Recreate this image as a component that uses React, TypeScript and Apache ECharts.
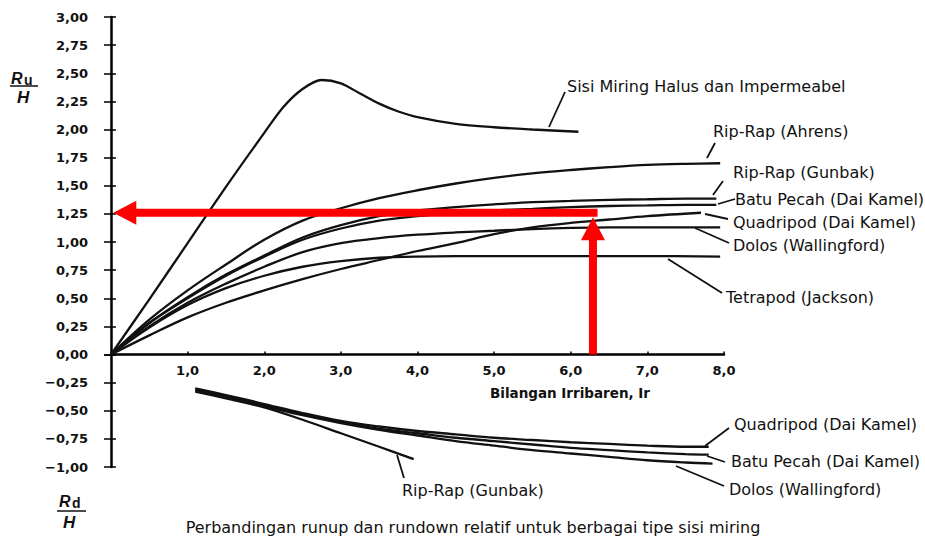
import React, { useEffect, useRef } from "react";
import * as echarts from "echarts";

const FONT = '"DejaVu Sans", sans-serif';
const RED = "#ff0000";
const INK = "#111111";

// ---- Runup curves (Ru/H vs Ir) ----
const sisiMiring: [number, number][] = [[0,0],[0.5,0.49],[1,0.99],[1.5,1.49],[2,1.97],[2.25,2.2],[2.5,2.36],[2.75,2.44],[3,2.41],[3.25,2.32],[3.5,2.23],[3.75,2.16],[4,2.11],[4.5,2.05],[5,2.02],[5.5,2.0],[6.1,1.98]];
const ripRapAhrens: [number, number][] = [[0,0],[0.5,0.31],[1,0.57],[1.5,0.8],[2,1.02],[2.5,1.19],[3,1.3],[3.5,1.39],[4,1.46],[4.5,1.52],[5,1.57],[5.5,1.61],[6,1.64],[6.5,1.665],[7,1.685],[7.5,1.695],[7.95,1.7]];
const ripRapGunbak: [number, number][] = [[0,0],[0.5,0.28],[1,0.51],[1.5,0.71],[2,0.88],[2.5,1.04],[3,1.15],[3.5,1.23],[4,1.28],[4.5,1.31],[5,1.335],[5.5,1.355],[6,1.365],[6.5,1.375],[7,1.38],[7.5,1.385],[7.9,1.385]];
const batuPecah: [number, number][] = [[0,0],[0.5,0.28],[1,0.5],[1.5,0.7],[2,0.87],[2.5,1.02],[3,1.12],[3.5,1.19],[4,1.23],[4.5,1.26],[5,1.28],[5.5,1.295],[6,1.31],[6.5,1.32],[7,1.325],[7.5,1.33],[7.9,1.33]];
const quadripod: [number, number][] = [[0,0],[0.5,0.17],[1,0.33],[1.5,0.46],[2,0.57],[2.5,0.67],[3,0.76],[3.5,0.84],[4,0.92],[4.5,0.99],[5,1.07],[5.5,1.13],[6,1.17],[6.5,1.2],[7,1.23],[7.7,1.26]];
const dolos: [number, number][] = [[0,0],[0.5,0.25],[1,0.46],[1.5,0.63],[2,0.78],[2.5,0.91],[3,0.99],[3.5,1.035],[4,1.065],[4.5,1.085],[5,1.1],[5.5,1.115],[6,1.125],[6.5,1.13],[7,1.13],[7.5,1.13],[7.95,1.13]];
const tetrapod: [number, number][] = [[0,0],[0.5,0.24],[1,0.44],[1.5,0.59],[2,0.7],[2.5,0.78],[3,0.83],[3.5,0.86],[4,0.87],[5,0.875],[6,0.875],[7,0.875],[7.95,0.87]];

// ---- Rundown curves (Rd/H vs Ir) ----
const quadripodRd: [number, number][] = [[1.1,-0.3],[1.5,-0.36],[2,-0.44],[2.5,-0.52],[3,-0.59],[3.5,-0.64],[4,-0.68],[4.5,-0.71],[5,-0.74],[5.5,-0.76],[6,-0.78],[6.5,-0.795],[7,-0.81],[7.5,-0.82],[7.8,-0.82]];
const batuPecahRd: [number, number][] = [[1.1,-0.31],[1.5,-0.37],[2,-0.45],[2.5,-0.53],[3,-0.6],[3.5,-0.66],[4,-0.7],[4.5,-0.74],[5,-0.77],[5.5,-0.8],[6,-0.83],[6.5,-0.85],[7,-0.87],[7.5,-0.885],[7.8,-0.89]];
const dolosRd: [number, number][] = [[1.1,-0.32],[1.5,-0.38],[2,-0.46],[2.5,-0.54],[3,-0.61],[3.5,-0.67],[4,-0.72],[4.5,-0.77],[5,-0.81],[5.5,-0.85],[6,-0.88],[6.5,-0.91],[7,-0.94],[7.5,-0.96],[7.85,-0.97]];
const ripRapGunbakRd: [number, number][] = [[1.1,-0.33],[1.5,-0.39],[2,-0.47],[2.5,-0.58],[3,-0.7],[3.5,-0.82],[3.95,-0.93]];

// ---- Red reading arrows: [fromX, fromY, toX, toY] ----
const arrows: number[][] = [[6.35, 1.26, 0.03, 1.26], [6.29, 0, 6.29, 1.22]];

// ---- Axis ranges / ticks ----
const X_MIN = 0, X_MAX = 8, X_STEP = 1;
const YU_MIN = 0, YU_MAX = 3;
const YD_MIN = -1, YD_MAX = 0;
const Y_STEP = 0.25;

// ---- Annotations: text, x, y (pixels), leader line points ----
const labels: { text: string; x: number; y: number; leader: number[][] }[] = [
  { text: "Sisi Miring Halus dan Impermeabel", x: 567, y: 86, leader: [[565, 92], [549, 127]] },
  { text: "Rip-Rap (Ahrens)", x: 713, y: 131, leader: [[715, 143], [707, 158]] },
  { text: "Rip-Rap (Gunbak)", x: 733, y: 172, leader: [[723, 181], [713, 195]] },
  { text: "Batu Pecah (Dai Kamel)", x: 735, y: 199, leader: [[735, 199], [718, 204]] },
  { text: "Quadripod (Dai Kamel)", x: 733, y: 222, leader: [[728, 219], [705, 214]] },
  { text: "Dolos (Wallingford)", x: 733, y: 245, leader: [[729, 243], [695, 228]] },
  { text: "Tetrapod (Jackson)", x: 726, y: 297, leader: [[722, 293], [668, 259]] },
  { text: "Quadripod (Dai Kamel)", x: 734, y: 424, leader: [[729, 428], [705, 446]] },
  { text: "Batu Pecah (Dai Kamel)", x: 731, y: 461, leader: [[725, 462], [707, 456]] },
  { text: "Dolos (Wallingford)", x: 729, y: 489, leader: [[724, 486], [676, 466]] },
  { text: "Rip-Rap (Gunbak)", x: 402, y: 490, leader: [[404, 478], [397, 455]] },
];

const fmtComma = (v: number, d: number) => {
  const s = Math.abs(v).toFixed(d).replace(".", ",");
  return v < 0 ? "\u2212" + s : s;
};

const lineSeries = (data: [number, number][], grid: number, smooth = 0.35) => ({
  type: "line",
  data,
  xAxisIndex: grid,
  yAxisIndex: grid * 2,
  smooth,
  symbol: "none",
  showSymbol: false,
  silent: true,
  z: 3,
  lineStyle: { color: INK, width: 2.3 },
});

const tickLabel = {
  color: INK,
  fontFamily: FONT,
  fontSize: 13,
  fontWeight: "bold",
};

const yAxesFor = (gridIndex: number, min: number, max: number, hideZero: boolean) => [
  {
    type: "value",
    gridIndex,
    min,
    max,
    interval: Y_STEP,
    axisLine: { show: true, onZero: false, lineStyle: { color: "#000", width: 2.5 } },
    axisTick: { show: true, length: 7, lineStyle: { color: "#000", width: 1.5 } },
    axisLabel: {
      ...tickLabel,
      margin: 23,
      formatter: (v: number) => (hideZero && v === 0 ? "" : fmtComma(v, 2)),
    },
    splitLine: { show: false },
  },
  {
    type: "value",
    gridIndex,
    min,
    max,
    interval: Y_STEP,
    position: "left",
    axisLine: { show: false, onZero: false },
    axisTick: { show: true, inside: true, length: 5, lineStyle: { color: "#000", width: 1.5 } },
    axisLabel: { show: false },
    splitLine: { show: false },
  },
];

export default function App() {
  const ref = useRef<HTMLDivElement>(null);
  useEffect(() => {
    if (!ref.current) return;
    const chart = echarts.init(ref.current, null, { renderer: "svg" });

    const graphics: any[] = [];
    labels.forEach((l) => {
      graphics.push({
        type: "text",
        z: 10,
        style: { x: l.x, y: l.y, text: l.text, fill: INK, font: `16px ${FONT}`, textAlign: "left", textVerticalAlign: "middle" },
      });
      graphics.push({
        type: "polyline",
        z: 10,
        shape: { points: l.leader },
        style: { stroke: INK, lineWidth: 1.8, fill: null },
      });
    });
    // Axis titles Ru/H and Rd/H
    const frac = (sub: string, x: number, yTop: number, lineX1: number, lineX2: number, yLine: number, hx: number, yH: number) => {
      graphics.push({ type: "text", z: 10, style: { x, y: yTop, text: "R", fill: INK, font: `italic bold 16px "Liberation Sans", sans-serif`, textAlign: "left", textVerticalAlign: "middle" } });
      graphics.push({ type: "text", z: 10, style: { x: x + 13, y: yTop + 2, text: sub, fill: INK, font: `bold 14px "Liberation Sans", sans-serif`, textAlign: "left", textVerticalAlign: "middle" } });
      graphics.push({ type: "line", z: 10, shape: { x1: lineX1, y1: yLine, x2: lineX2, y2: yLine }, style: { stroke: INK, lineWidth: 1.5 } });
      graphics.push({ type: "text", z: 10, style: { x: hx, y: yH, text: "H", fill: INK, font: `italic bold 17px "Liberation Sans", sans-serif`, textAlign: "left", textVerticalAlign: "middle" } });
    };
    frac("u", 11, 78, 10, 38, 86, 17, 97);
    frac("d", 59, 501, 57, 86, 511, 63, 522);
    graphics.push({
      type: "text",
      z: 10,
      style: { x: 570, y: 393, text: "Bilangan Irribaren, Ir", fill: INK, font: `bold 13.5px ${FONT}`, textAlign: "center", textVerticalAlign: "middle" },
    });
    graphics.push({
      type: "text",
      z: 10,
      style: { x: 473, y: 527, text: "Perbandingan runup dan rundown relatif untuk berbagai tipe sisi miring", fill: INK, font: `16px ${FONT}`, textAlign: "center", textVerticalAlign: "middle" },
    });

    chart.setOption({
      animation: false,
      backgroundColor: "#ffffff",
      grid: [
        { left: 111, top: 17, width: 613, height: 337.5, containLabel: false },
        { left: 111, top: 354.5, width: 613, height: 112.5, containLabel: false },
      ],
      xAxis: [
        {
          type: "value",
          gridIndex: 0,
          min: X_MIN,
          max: X_MAX,
          interval: X_STEP,
          axisLine: { show: true, onZero: false, lineStyle: { color: "#000", width: 2.5 } },
          axisTick: { show: true, inside: true, length: 3, lineStyle: { color: "#000", width: 1.5 } },
          axisLabel: {
            ...tickLabel,
            margin: 9,
            formatter: (v: number) => (v === 0 ? "" : fmtComma(v, 1)),
          },
          splitLine: { show: false },
        },
        {
          type: "value",
          gridIndex: 1,
          min: X_MIN,
          max: X_MAX,
          interval: X_STEP,
          show: false,
        },
      ],
      yAxis: [...yAxesFor(0, YU_MIN, YU_MAX, false), ...yAxesFor(1, YD_MIN, YD_MAX, true)],
      series: [
        lineSeries(sisiMiring, 0, 0.3),
        lineSeries(ripRapAhrens, 0),
        lineSeries(ripRapGunbak, 0),
        lineSeries(batuPecah, 0),
        lineSeries(quadripod, 0),
        lineSeries(dolos, 0),
        lineSeries(tetrapod, 0),
        lineSeries(quadripodRd, 1),
        lineSeries(batuPecahRd, 1),
        lineSeries(dolosRd, 1),
        lineSeries(ripRapGunbakRd, 1),
        {
          type: "custom",
          coordinateSystem: "cartesian2d",
          xAxisIndex: 0,
          yAxisIndex: 0,
          data: arrows,
          encode: { x: [0, 2], y: [1, 3] },
          silent: true,
          clip: false,
          z: 6,
          renderItem: (_p: any, api: any) => {
            const a = api.coord([api.value(0), api.value(1)]);
            const b = api.coord([api.value(2), api.value(3)]);
            const dx = b[0] - a[0];
            const dy = b[1] - a[1];
            const len = Math.hypot(dx, dy) || 1;
            const ux = dx / len;
            const uy = dy / len;
            const headLen = 23;
            const headW = 12;
            const bx = b[0] - ux * headLen;
            const by = b[1] - uy * headLen;
            const nx = -uy;
            const ny = ux;
            return {
              type: "group",
              children: [
                {
                  type: "line",
                  shape: { x1: a[0], y1: a[1], x2: bx + ux * 2, y2: by + uy * 2 },
                  style: { stroke: RED, lineWidth: 8, lineCap: "butt" },
                },
                {
                  type: "polygon",
                  shape: { points: [[b[0], b[1]], [bx + nx * headW, by + ny * headW], [bx - nx * headW, by - ny * headW]] },
                  style: { fill: RED },
                },
              ],
            };
          },
        },
      ],
      graphic: graphics,
    });
    return () => chart.dispose();
  }, []);
  return (
    <div
      ref={ref}
      style={{ position: "fixed", left: 0, top: 0, width: 925, height: 538, background: "#fff" }}
    />
  );
}
